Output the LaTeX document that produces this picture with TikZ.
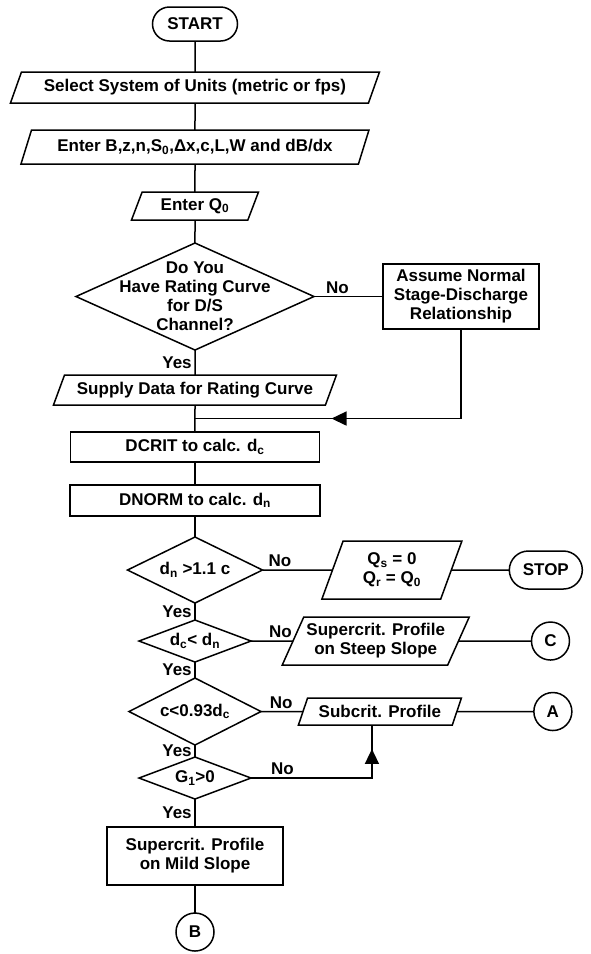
\documentclass[tikz,border=0pt]{standalone}
\usepackage{fontspec}
\setmainfont{Liberation Sans}
\usetikzlibrary{arrows.meta, positioning, shapes.geometric, decorations.markings}

\begin{document}
\begin{tikzpicture}[
    x=1pt, y=-1pt,
    line width=1.5pt,
    font=\fontsize{17}{19}\selectfont\bfseries,
    every node/.style={outer sep=0pt},
    term/.style={rectangle, draw, rounded corners=17pt, minimum width=85pt, minimum height=34pt, inner sep=2pt},
    io/.style={trapezium, draw, trapezium left angle=61, trapezium right angle=119, trapezium stretches body, inner sep=2pt, align=center},
    proc/.style={rectangle, draw, inner sep=2pt, align=center},
    dec/.style={diamond, draw, inner sep=0pt},
    conn/.style={circle, draw, minimum size=38pt, inner sep=0pt},
    tipat/.style={postaction={decorate}, decoration={markings, mark=at position #1 with {\arrow{Triangle[length=15pt, width=14pt]}}}}
]
\useasboundingbox (0,0) rectangle (590,954);

% main column
\node[term] (start) at (195,24) {START};
\node[io, minimum width=369pt, minimum height=31pt, below=31pt of start] (units) {Select System of Units (metric or fps)};
\node[io, minimum width=348pt, minimum height=34pt, below=27pt of units] (input) {Enter B,z,n,S\textsubscript{0},Δx,c,L,W and dB/dx};
\node[io, minimum width=127pt, minimum height=28pt, below=28pt of input] (flow) {Enter Q\textsubscript{0}};
\node[dec, minimum width=238pt, minimum height=107pt, below=23pt of flow,
    label={[align=center]center:Do You\\Have Rating Curve\\for D/S\\Channel?}] (q1) {};
\node[io, minimum width=283pt, minimum height=30pt, below=25pt of q1] (rating) {Supply Data for Rating Curve};
\coordinate[below=13.5pt of rating] (join);
\node[proc, minimum width=249pt, minimum height=30pt, below=27pt of rating] (dcrit) {DCRIT to calc. d\textsubscript{c}};
\node[proc, minimum width=250pt, minimum height=31pt, below=23pt of dcrit] (dnorm) {DNORM to calc. d\textsubscript{n}};
\node[dec, minimum width=135pt, minimum height=66pt, below=21pt of dnorm,
    label={center:d\textsubscript{n} >1.1 c}] (q2) {};
\node[dec, minimum width=112pt, minimum height=42pt, below=17pt of q2,
    label={center:d\textsubscript{c}< d\textsubscript{n}}] (q3) {};
\node[dec, minimum width=132pt, minimum height=67pt, below=16pt of q3,
    label={center:c<0.93d\textsubscript{c}}] (q4) {};
\node[dec, minimum width=112pt, minimum height=42pt, below=12pt of q4,
    label={center:G\textsubscript{1}>0}] (q5) {};
\node[proc, minimum width=176pt, minimum height=58pt, below=28pt of q5] (mild) {Supercrit. Profile\\on Mild Slope};
\node[conn, below=28pt of mild] (cb) {B};

% side branches
\node[proc, minimum width=156pt, minimum height=65pt, right=69pt of q1] (normal) {Assume Normal\\Stage-Discharge\\Relationship};
\node[io, minimum width=140pt, minimum height=58pt, right=70pt of q2] (zero) {Q\textsubscript{s} = 0\\Q\textsubscript{r} = Q\textsubscript{0}};
\node[term, minimum width=73pt, minimum height=38pt, rounded corners=19pt, right=58pt of zero] (stop) {STOP};
\node[io, minimum width=187pt, minimum height=48pt, right=42pt of q3] (steep) {Supercrit. Profile\\on Steep Slope};
\node[conn, right=73pt of steep] (cc) {C};
\node[io, minimum width=163pt, minimum height=27pt, right=42pt of q4] (sub) {Subcrit. Profile};
\node[conn, right=77pt of sub] (ca) {A};

% connectors
\draw (start) -- (units);
\draw (units) -- (input);
\draw (input) -- (flow);
\draw (flow) -- (q1);
\draw (q1) -- node[left]{Yes} (rating);
\draw (rating) -- (dcrit);
\draw (dcrit) -- (dnorm);
\draw (dnorm) -- (q2);
\draw (q2) -- node[left]{Yes} (q3);
\draw (q3) -- node[left]{Yes} (q4);
\draw (q4) -- node[left]{Yes} (q5);
\draw (q5) -- node[left]{Yes} (mild);
\draw (mild) -- (cb);

\draw (q1) -- node[above, pos=0.34]{No} (normal);
\draw[tipat=219pt] (normal.south) |- (join);
\draw (q2) -- node[above, pos=0.25]{No} (zero);
\draw (zero) -- (stop);
\draw (q3) -- node[above, pos=0.7]{No} (steep);
\draw (steep) -- (cc);
\draw (q4) -- node[above, pos=0.48]{No} (sub);
\draw (sub) -- (ca);
\draw[tipat=150pt] (q5.east) -| node[above, pos=0.13]{No} ([xshift=-8pt]sub.south);
\end{tikzpicture}
\end{document}
